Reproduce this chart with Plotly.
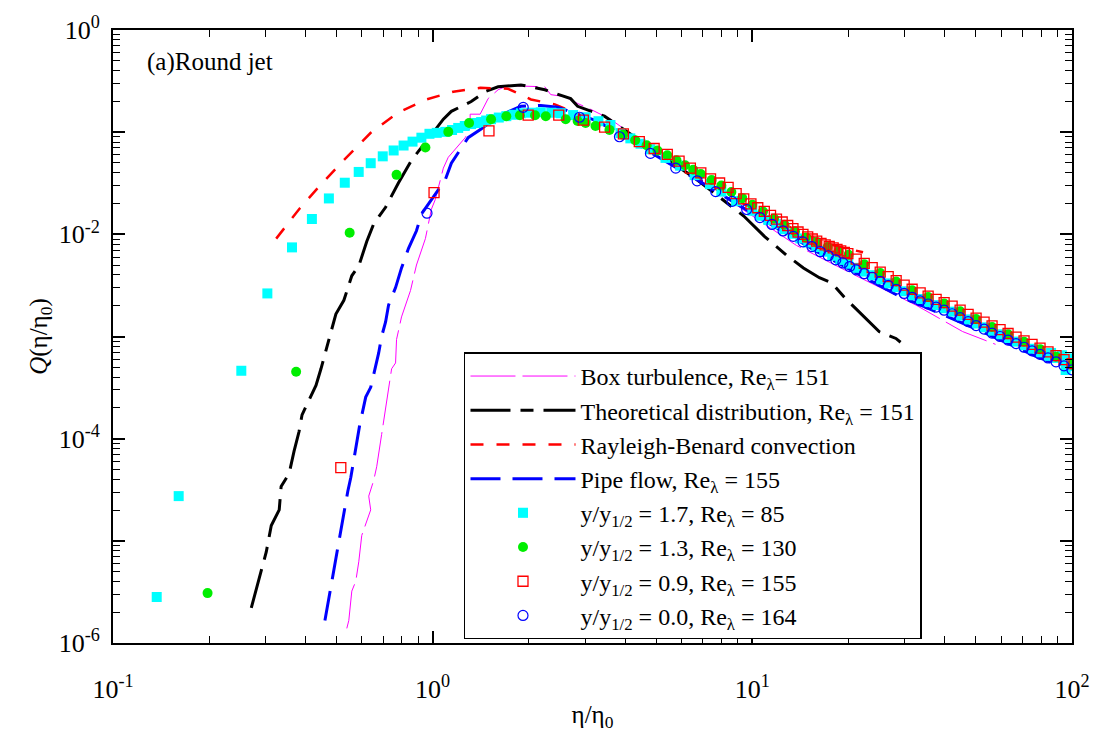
import plotly.graph_objects as go

# ---------------- data ----------------
# Box turbulence, Re_lambda = 151
box_eta = [0.5388, 0.5466, 0.5585, 0.5747, 0.5873, 0.6000, 0.6400, 0.6309, 0.6538, 0.6682, 0.6924,
           0.7440, 0.7655, 0.7709, 0.7991, 0.8524, 0.8899, 0.9490, 0.9908, 1.0195, 1.080, 1.119,
           1.264, 1.310, 1.310, 1.408, 1.491, 1.602, 1.684, 1.809, 2.243, 2.341, 2.588, 2.841,
           3.118, 3.599, 4.692, 6.714, 9.607, 13.75, 21.13, 32.49, 45.50, 57.65]
box_Q = [1.39e-6, 1.66e-6, 3.22e-6, 4.02e-6, 6.24e-6, 1.13e-5, 2.01e-5, 2.74e-5, 3.90e-5, 5.31e-5, 1.10e-4,
         4.83e-4, 5.51e-4, 9.35e-4, 1.555e-3, 2.82e-3, 5.01e-3, 9.08e-3, 0.0176, 0.0220, 0.0445, 0.0568,
         0.0883, 0.110, 0.150, 0.150, 0.213, 0.260, 0.278, 0.284, 0.278, 0.233, 0.223, 0.191,
         0.1675, 0.134, 0.0740, 0.0357, 0.0165, 7.78e-3, 3.93e-3, 2.03e-3, 1.117e-3, 8.38e-4]

# Theoretical distribution, Re_lambda = 151
theo_eta = [0.2708, 0.3016, 0.3127, 0.3311, 0.3357, 0.3556, 0.3685, 0.382, 0.3903, 0.4315, 0.4473,
            0.4839, 0.4980, 0.5275, 0.5585, 0.5873, 0.6220, 0.6538, 0.7124, 0.7820, 0.8585, 0.9696,
            1.080, 1.144, 1.320, 1.459, 1.602, 1.888, 2.243, 2.702, 2.841, 3.447, 4.692, 6.714,
            9.401, 10.93, 12.80, 14.45, 16.21, 17.67, 19.40, 24.92, 28.13, 30.68]
theo_Q = [2.21e-6, 7.78e-6, 1.41e-5, 2.01e-5, 3.41e-5, 4.55e-5, 7.56e-5, 1.175e-4, 1.71e-4, 3.32e-4, 4.83e-4,
          1.167e-3, 1.66e-3, 2.26e-3, 3.93e-3, 4.90e-3, 8.51e-3, 0.01265, 0.0184, 0.0320, 0.0531, 0.0863,
          0.134, 0.160, 0.1996, 0.249, 0.278, 0.290, 0.260, 0.213, 0.179, 0.1434, 0.0740, 0.0342,
          0.0151, 9.50e-3, 6.24e-3, 4.69e-3, 3.76e-3, 3.37e-3, 2.42e-3, 1.117e-3, 9.57e-4, 7.67e-4]

# Rayleigh-Benard convection
rb_eta = [0.324, 0.382, 0.441, 0.527, 0.640, 0.782, 0.956, 1.16, 1.41, 1.72, 2.03, 2.41, 3.05,
          3.78, 5.30, 7.75, 11.9, 17.0, 22.2]
rb_Q = [9.08e-3, 0.0176, 0.0293, 0.0531, 0.0986, 0.1566, 0.2087, 0.249, 0.272, 0.266, 0.209, 0.187, 0.137,
        0.103, 0.0531, 0.0274, 0.0135, 8.14e-3, 6.67e-3]

# Pipe flow, Re_lambda = 155
pipe_eta = [0.4602, 0.4735, 0.4839, 0.5087, 0.5160, 0.5427, 0.5545, 0.5830, 0.5915, 0.6174, 0.6400,
            0.6776, 0.6924, 0.7124, 0.7278, 0.7655, 0.7991, 0.8404, 0.8899, 0.9222, 0.9908, 1.041,
            1.095, 1.144, 1.202, 1.291, 1.418, 1.602, 1.888, 2.179, 2.461, 3.280, 4.692, 6.714,
            10.32, 15.86, 28.13, 49.94, 76.77, 91.8]
pipe_Q = [1.66e-6, 2.76e-6, 4.02e-6, 9.29e-6, 1.29e-5, 3.06e-5, 4.17e-5, 9.86e-5, 1.37e-4, 2.55e-4, 3.18e-4,
          6.87e-4, 1.0e-3, 1.39e-3, 2.03e-3, 3.01e-3, 4.69e-3, 7.29e-3, 0.01084, 0.01578, 0.0220, 0.0274,
          0.0342, 0.0497, 0.0634, 0.0883, 0.1076, 0.1434, 0.179, 0.1828, 0.175, 0.1284, 0.0662, 0.0342,
          0.0151, 6.82e-3, 2.58e-3, 1.19e-3, 6.43e-4, 5.15e-4]

# y/y_1/2 = 1.7, Re_lambda = 85
jet17_eta = [0.137, 0.1605, 0.252, 0.304, 0.363, 0.419, 0.4735, 0.531, 0.587, 0.640, 0.698, 0.755,
             0.811, 0.865, 0.922, 0.977, 1.03, 1.095, 1.15, 1.202, 1.26, 1.320, 1.37, 1.418, 1.47,
             1.523, 1.61, 1.70, 1.79, 1.888, 2.03, 2.179, 2.35, 2.516, 2.75, 3.009, 3.3, 3.599, 3.87,
             4.153, 4.47, 4.793, 5.35, 5.943, 6.6, 7.37, 8.0, 8.9,
             10.0, 10.59, 11.22, 11.89, 12.59, 13.34, 14.13, 14.96, 15.85, 16.79, 17.78, 18.84, 19.95,
             21.13, 22.39, 23.71, 25.12, 26.61, 28.18, 29.85, 31.62, 33.50, 35.48, 37.58, 39.81, 42.17,
             44.67, 47.32, 50.12, 53.09, 56.23, 59.57, 63.10, 66.83, 70.79, 74.99, 79.43, 84.14, 86.0,
             89.13, 93.0, 94.41, 95.5, 98.0, 100.0]
jet17_Q = [2.82e-6, 2.74e-5, 4.62e-4, 2.64e-3, 7.45e-3, 0.01413, 0.02246, 0.0320, 0.0408, 0.0497, 0.0580, 0.0662,
           0.0740, 0.0808, 0.0883, 0.0964, 0.0985, 0.1007, 0.105, 0.110, 0.115, 0.120, 0.123, 0.1256, 0.130,
           0.134, 0.139, 0.1434, 0.148, 0.1532, 0.155, 0.1566, 0.155, 0.1532, 0.147, 0.140, 0.128, 0.1175, 0.098,
           0.087, 0.077, 0.068, 0.056, 0.047, 0.038, 0.031, 0.0262, 0.0211,
           0.0170, 0.0152, 0.0138, 0.01259, 0.01122, 0.01012, 0.00912, 0.00832, 0.00750, 0.00676, 0.00617,
           0.00562, 0.00516,
           0.00470, 0.00432, 0.00398, 0.00363, 0.00331, 0.00304, 0.00277, 0.00253, 0.00233, 0.00217, 0.00203,
           0.00189, 0.00175, 0.00160, 0.00147, 0.00134, 0.00123, 0.00114, 0.00105, 0.000966, 0.000891,
           0.000822, 0.000759, 0.000700, 0.000646, 0.000690, 0.000617, 0.000655, 0.000575, 0.000470, 0.000610,
           0.000513]

# y/y_1/2 = 1.3, Re_lambda = 130
jet13_eta = [0.1976, 0.374, 0.550, 0.771, 0.949, 1.119, 1.30, 1.523, 1.70, 1.875, 2.09, 2.259, 2.607,
             2.841, 3.009, 3.232, 3.573, 3.94, 4.30, 4.67, 5.05, 5.42, 5.79, 6.16, 6.53, 6.9, 7.46, 8.0,
             8.6, 9.3, 10.0, 10.8, 11.7, 12.6, 13.6, 14.7, 15.9, 17.2, 18.6, 20.0, 22.39, 25.12, 28.18,
             31.62, 35.48, 39.81, 44.67, 50.12, 56.23, 63.10, 70.79, 79.43, 89.13, 100.0]
jet13_Q = [3.08e-6, 4.52e-4, 0.01037, 0.0382, 0.0708, 0.1007, 0.1229, 0.134, 0.1434, 0.1466, 0.1466, 0.1434,
           0.134, 0.1284, 0.1229, 0.115, 0.1053, 0.0945, 0.0835, 0.0745, 0.0660, 0.0595, 0.0530, 0.0475,
           0.0428, 0.0390, 0.0340, 0.0300, 0.0260, 0.0226, 0.0195, 0.0167, 0.0143, 0.0124, 0.0107, 0.0093,
           0.0084, 0.0075, 0.0068, 0.0063, 0.0051, 0.00418, 0.00346, 0.00284, 0.00243, 0.00210, 0.00177,
           0.00148, 0.00124, 0.00105, 0.000888, 0.000752, 0.000635, 0.00053]

# y/y_1/2 = 0.9, Re_lambda = 155
jet09_eta = [0.516, 1.01, 1.50, 1.99, 2.48, 2.96, 3.45, 3.95, 4.43, 4.93, 5.42, 5.90, 6.40, 6.90, 7.40,
             7.90, 8.40, 8.90, 9.40, 9.90, 10.4, 10.9, 11.4, 11.9, 12.4, 12.9, 13.4, 13.9, 14.4, 14.9,
             15.4, 15.9, 16.4, 16.9, 17.4, 17.9, 18.4, 18.9, 19.4, 19.9,
             21.13, 22.39, 23.71, 25.12, 26.61, 28.18, 29.85, 31.62, 33.50, 35.48, 37.58, 39.81, 42.17,
             44.67, 47.32, 50.12, 53.09, 56.23, 59.57, 63.10, 66.83, 70.79, 74.99, 79.43, 84.14, 89.13,
             94.41, 100.0]
jet09_Q = [5.2e-5, 0.0256, 0.103, 0.147, 0.147, 0.131, 0.112, 0.0964, 0.0807, 0.0692, 0.0606, 0.052, 0.0445,
           0.0399, 0.0349, 0.0318, 0.0288, 0.0250, 0.0222, 0.0199, 0.0182, 0.0168, 0.0153, 0.0141, 0.0132,
           0.0122, 0.01135, 0.01054, 0.0100, 0.00944, 0.0090, 0.00857, 0.00817, 0.00789, 0.00762, 0.00736,
           0.00711, 0.00689, 0.00665, 0.00646,
           0.00571, 0.00519, 0.00473, 0.00427, 0.00386, 0.00353, 0.00319, 0.00290, 0.00267, 0.00248, 0.00231,
           0.00215, 0.00198, 0.00181, 0.00165, 0.00151, 0.00138, 0.00127, 0.00117, 0.00107, 0.000986,
           0.000908, 0.000836, 0.000769, 0.000708, 0.000649, 0.000593, 0.000542]

# y/y_1/2 = 0.0, Re_lambda = 164
jet00_eta = [0.96, 1.92, 2.88, 3.84, 4.80, 5.76, 6.72, 7.68, 8.64, 9.60, 10.56, 11.52, 12.48, 13.44, 14.40,
             15.36, 16.32, 17.28, 18.24, 19.20, 20.16,
             21.13, 22.39, 23.71, 25.12, 26.61, 28.18, 29.85, 31.62, 33.50, 35.48, 37.58, 39.81, 42.17,
             44.67, 47.32, 50.12, 53.09, 56.23, 59.57, 63.10, 66.83, 70.79, 74.99, 79.43, 84.14, 89.13,
             94.41, 100.0]
jet00_Q = [0.0161, 0.175, 0.140, 0.0902, 0.0620, 0.0445, 0.0334, 0.0262, 0.0210, 0.0175, 0.0146, 0.0125,
           0.0108, 0.00955, 0.00844, 0.00759, 0.00676, 0.00617, 0.00562, 0.00525, 0.00484,
           0.00449, 0.00412, 0.00380, 0.00347, 0.00316, 0.00290, 0.00264, 0.00242, 0.00223, 0.00208, 0.00194,
           0.00181, 0.00167, 0.00153, 0.00140, 0.00128, 0.00118, 0.00108, 0.00100, 0.000923, 0.000851,
           0.000785, 0.000724, 0.000668, 0.000617, 0.000565, 0.000516, 0.000472]

x_ticks = [0.1, 1, 10, 100]
x_ticktext = ["10<sup>-1</sup>", "10<sup>0</sup>", "10<sup>1</sup>", "10<sup>2</sup>"]
y_ticks = [1e-6, 1e-5, 1e-4, 1e-3, 1e-2, 1e-1, 1]
y_ticktext = ["10<sup>-6</sup>", "", "10<sup>-4</sup>", "", "10<sup>-2</sup>", "", "10<sup>0</sup>"]

# ---------------- figure ----------------
FONT = "Liberation Serif, Times New Roman, serif"
fig = go.Figure()

fig.add_trace(go.Scatter(x=box_eta, y=box_Q, mode="lines", name="Box turbulence, Re<sub>λ</sub>= 151",
                         line=dict(color="#ff00ff", width=1, dash="45px,7px")))
fig.add_trace(go.Scatter(x=theo_eta, y=theo_Q, mode="lines",
                         name="Theoretical distribution, Re<sub>λ</sub> = 151",
                         line=dict(color="black", width=3, dash="40px,10px,13px,10px")))
fig.add_trace(go.Scatter(x=rb_eta, y=rb_Q, mode="lines", name="Rayleigh-Benard convection",
                         line=dict(color="#ff0000", width=2.5, dash="13px,13px")))
fig.add_trace(go.Scatter(x=pipe_eta, y=pipe_Q, mode="lines", name="Pipe flow, Re<sub>λ</sub> = 155",
                         line=dict(color="#0000ff", width=3, dash="30px,12px")))
fig.add_trace(go.Scatter(x=jet17_eta, y=jet17_Q, mode="markers",
                         name="y/y<sub>1/2</sub> = 1.7, Re<sub>λ</sub> = 85",
                         marker=dict(symbol="square", size=10, color="#00ffff", line=dict(width=0))))
fig.add_trace(go.Scatter(x=jet13_eta, y=jet13_Q, mode="markers",
                         name="y/y<sub>1/2</sub> = 1.3, Re<sub>λ</sub> = 130",
                         marker=dict(symbol="circle", size=10, color="#00ee00", line=dict(width=0))))
fig.add_trace(go.Scatter(x=jet09_eta, y=jet09_Q, mode="markers",
                         name="y/y<sub>1/2</sub> = 0.9, Re<sub>λ</sub> = 155",
                         marker=dict(symbol="square-open", size=10, color="#ff0000", line=dict(width=1.3))))
fig.add_trace(go.Scatter(x=jet00_eta, y=jet00_Q, mode="markers",
                         name="y/y<sub>1/2</sub> = 0.0, Re<sub>λ</sub> = 164",
                         marker=dict(symbol="circle-open", size=10, color="#0000ff", line=dict(width=1.2))))

minor_x = [v * m for v in (0.1, 1, 10) for m in range(2, 10)]
minor_y = [v * m for v in (1e-6, 1e-5, 1e-4, 1e-3, 1e-2, 1e-1) for m in range(2, 10)]

axis_common = dict(type="log", showline=True, linecolor="black", linewidth=2, mirror="allticks",
                   ticks="inside", ticklen=12, tickwidth=1.5, tickcolor="black", showgrid=False,
                   zeroline=False, ticklabeloverflow="allow",
                   tickfont=dict(family=FONT, size=26, color="black"))

fig.update_xaxes(**axis_common, range=[-1, 2], tickmode="array", tickvals=x_ticks, ticktext=x_ticktext,
                 ticklabelstandoff=22,
                 minor=dict(tickmode="array", tickvals=minor_x, ticks="inside", ticklen=7, tickwidth=1.2,
                            tickcolor="black", showgrid=False),
                 title=dict(text="η/η<sub>0</sub>", font=dict(family=FONT, size=25, color="black"), standoff=2))
fig.update_yaxes(**axis_common, range=[-6, 0], tickmode="array", tickvals=y_ticks, ticktext=y_ticktext,
                 ticklabelstandoff=6,
                 minor=dict(tickmode="array", tickvals=minor_y, ticks="inside", ticklen=7, tickwidth=1.2,
                            tickcolor="black", showgrid=False),
                 title=dict(text="<i>Q</i>(η/η<sub>0</sub>)", font=dict(family=FONT, size=25, color="black"),
                            standoff=4))

fig.add_annotation(x=0.033, y=0.947, xref="paper", yref="paper", xanchor="left", yanchor="middle",
                   text="(a)Round jet", showarrow=False, font=dict(family=FONT, size=25, color="black"))

fig.update_layout(
    width=1102, height=738,
    margin=dict(l=113, r=25, t=17, b=95),
    paper_bgcolor="white", plot_bgcolor="white",
    font=dict(family=FONT, color="black"),
    legend=dict(x=0.366, y=0.474, xanchor="left", yanchor="top", bgcolor="white",
                bordercolor="black", borderwidth=1.5, font=dict(family=FONT, size=24, color="black"),
                itemwidth=105, tracegroupgap=0),
    showlegend=True,
)

fig.write_html("out.html")
